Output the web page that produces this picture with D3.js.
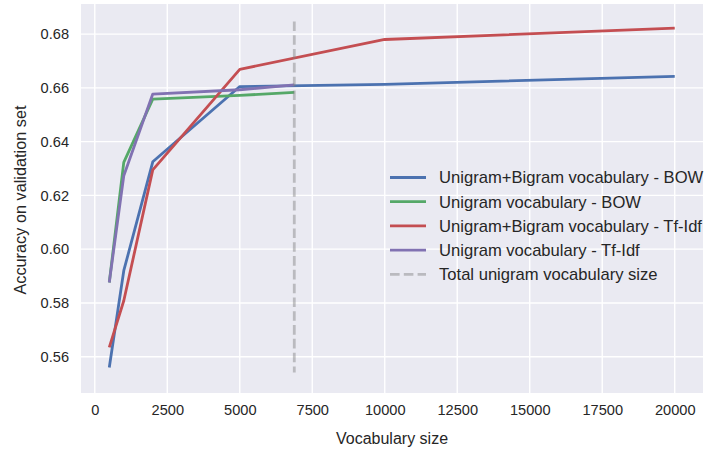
<!DOCTYPE html>
<html>
<head>
<meta charset="utf-8">
<script src="https://cdn.jsdelivr.net/npm/d3@7"></script>
<style>
	body { margin: 0; background: #fff; }
	text { font-family: "Liberation Sans", Arial, sans-serif; fill: #262626; }
</style>
</head>
<body>
<svg id="chart" width="707" height="455"></svg>
<script>
// data
var bigramSizes = [500, 1000, 2000, 5000, 10000, 20000];
var unigramSizes = [500, 1000, 2000, 5000, 6880];
var bowBigram = [0.556, 0.592, 0.6325, 0.6605, 0.6613, 0.6643];
var bowUnigram = [0.5876, 0.6323, 0.6558, 0.6572, 0.6583];
var tfidfBigram = [0.5635, 0.5808, 0.6295, 0.6669, 0.678, 0.6822];
var tfidfUnigram = [0.5876, 0.6273, 0.6577, 0.6593, 0.6611];
var totalUnigram = 6880;
var totalRange = [0.5541, 0.6847];
var xTicks = [0, 2500, 5000, 7500, 10000, 12500, 15000, 17500, 20000];
var yTicks = [0.56, 0.58, 0.60, 0.62, 0.64, 0.66, 0.68];

var series = [
	{ name: "Unigram+Bigram vocabulary - BOW", x: bigramSizes, y: bowBigram, color: "#4C72B0" },
	{ name: "Unigram vocabulary - BOW", x: unigramSizes, y: bowUnigram, color: "#55A868" },
	{ name: "Unigram+Bigram vocabulary - Tf-Idf", x: bigramSizes, y: tfidfBigram, color: "#C44E52" },
	{ name: "Unigram vocabulary - Tf-Idf", x: unigramSizes, y: tfidfUnigram, color: "#8172B2" }
];

var svg = d3.select("#chart");
var pLeft = 81, pRight = 703, pTop = 4, pBottom = 393;

var x = d3.scaleLinear().domain([-475, 20975]).range([pLeft, pRight]);
var y = d3.scaleLinear().domain([0.5465, 0.6912]).range([pBottom, pTop]);

//background
svg.append("rect")
	.attr("x", pLeft)
	.attr("y", pTop)
	.attr("width", pRight - pLeft)
	.attr("height", pBottom - pTop)
	.attr("fill", "#EAEAF2");

//grid
var grid = svg.append("g");
grid.selectAll(".vgrid")
	.data(xTicks)
	.enter()
	.append("line")
	.attr("x1", function(d) { return x(d); })
	.attr("x2", function(d) { return x(d); })
	.attr("y1", pTop)
	.attr("y2", pBottom)
	.attr("stroke", "#fff")
	.attr("stroke-width", 1.4);
grid.selectAll(".hgrid")
	.data(yTicks)
	.enter()
	.append("line")
	.attr("x1", pLeft)
	.attr("x2", pRight)
	.attr("y1", function(d) { return y(d); })
	.attr("y2", function(d) { return y(d); })
	.attr("stroke", "#fff")
	.attr("stroke-width", 1.4);

//axes (labels only, no domain line or ticks)
var xAxis = svg.append("g")
	.attr("transform", "translate(0," + pBottom + ")")
	.call(d3.axisBottom(x).tickValues(xTicks).tickSize(0).tickPadding(12).tickFormat(d3.format("d")));
var yAxis = svg.append("g")
	.attr("transform", "translate(" + pLeft + ",0)")
	.call(d3.axisLeft(y).tickValues(yTicks).tickSize(0).tickPadding(12).tickFormat(d3.format(".2f")));
[xAxis, yAxis].forEach(function(a) {
	a.select(".domain").remove();
	a.selectAll("text")
		.style("font-family", "'Liberation Sans', Arial, sans-serif")
		.style("font-size", "14.6px")
		.attr("fill", "#262626");
});

svg.append("text")
	.attr("x", (pLeft + pRight) / 2)
	.attr("y", 444)
	.attr("text-anchor", "middle")
	.style("font-size", "16px")
	.text("Vocabulary size");
svg.append("text")
	.attr("transform", "translate(26,200) rotate(-90)")
	.attr("text-anchor", "middle")
	.style("font-size", "16.3px")
	.text("Accuracy on validation set");

//lines
var line = d3.line()
	.x(function(d) { return x(d[0]); })
	.y(function(d) { return y(d[1]); });
var plot = svg.append("g");
series.forEach(function(s) {
	plot.append("path")
		.datum(d3.zip(s.x, s.y))
		.attr("d", line)
		.attr("fill", "none")
		.attr("stroke", s.color)
		.attr("stroke-width", 2.8)
		.attr("stroke-linejoin", "round");
});

//total unigram vocabulary
plot.append("line")
	.attr("x1", x(totalUnigram))
	.attr("x2", x(totalUnigram))
	.attr("y1", y(totalRange[1]))
	.attr("y2", y(totalRange[0]))
	.attr("stroke", "#808080")
	.attr("stroke-opacity", 0.45)
	.attr("stroke-width", 2.8)
	.attr("stroke-dasharray", "9.6,4.2");

//legend
var legendItems = series.map(function(s) { return { name: s.name, color: s.color, dash: null, op: 1 }; });
legendItems.push({ name: "Total unigram vocabulary size", color: "#808080", dash: "9.6,4.2", op: 0.45 });
var legend = svg.append("g").attr("transform", "translate(390,177.5)");
legendItems.forEach(function(d, i) {
	var g = legend.append("g").attr("transform", "translate(0," + (i * 24.2) + ")");
	g.append("line")
		.attr("x1", 0)
		.attr("x2", 36)
		.attr("stroke", d.color)
		.attr("stroke-opacity", d.op)
		.attr("stroke-width", 2.8)
		.attr("stroke-dasharray", d.dash);
	g.append("text")
		.attr("x", 49)
		.attr("dy", "0.36em")
		.style("font-size", "16.6px")
		.text(d.name);
});
</script>
</body>
</html>
